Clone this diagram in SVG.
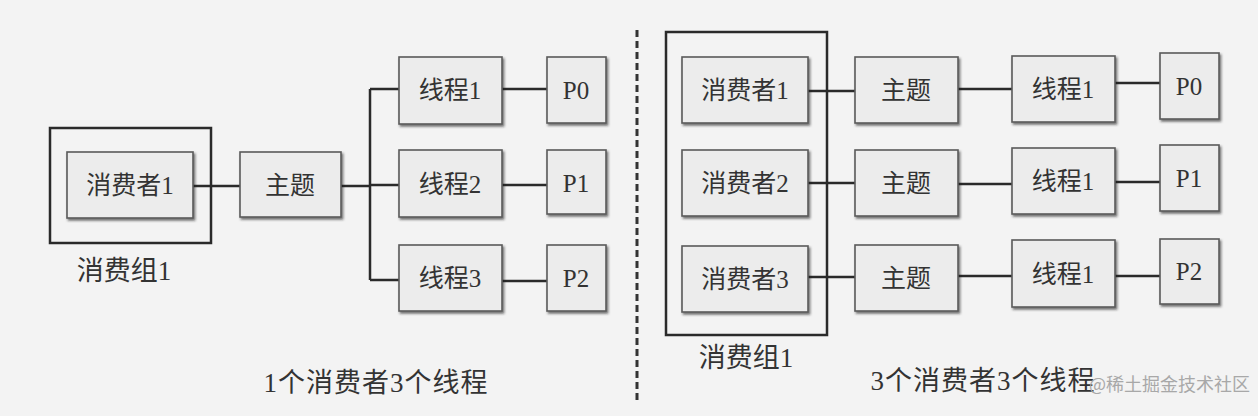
<svg xmlns="http://www.w3.org/2000/svg" width="1258" height="416" viewBox="0 0 1258 416">
<defs>
<filter id="sh" x="-10%" y="-10%" width="125%" height="130%">
<feDropShadow dx="1.5" dy="2" stdDeviation="1.2" flood-color="#222" flood-opacity="0.6"/>
</filter>
<style>
.box{fill:#ececec;stroke:#5a5a5a;stroke-width:1.6;filter:url(#sh)}
.grp{fill:none;stroke:#2a2a2a;stroke-width:2.5}
.t{font-family:"Liberation Serif","Noto Sans CJK SC",serif;font-size:25px;fill:#333;text-anchor:middle;dominant-baseline:central}
.cap{font-family:"Liberation Serif","Noto Sans CJK SC",serif;font-size:27px;fill:#333;text-anchor:middle}
.ln{stroke:#2a2a2a;stroke-width:2.5;fill:none}
.wm{font-family:"Noto Sans CJK SC","Noto Sans",sans-serif;font-size:18px;fill:#a8a8a8}
</style>
</defs>
<rect width="1258" height="416" fill="#f3f3f3"/>
<line x1="637" y1="30" x2="637" y2="402" stroke="#333" stroke-width="3" stroke-dasharray="7,4"/>
<g id="connectors">
<path class="ln" d="M193 186H240M341 186H370M370 89V280M370 89H399M370 185H399M370 280H399M502 89H547M502 185H547M502 281H547"/>
<path class="ln" d="M808 91H855M808 183H855M808 277H855M958 89H1012M958 184H1012M958 276H1012M1115 83H1160M1115 182H1160M1115 276H1160"/>
</g>
<g id="group-left">
<rect class="grp" x="50" y="128" width="161" height="115"/>
<text class="cap" x="124" y="280">消费组1</text>
</g>
<g id="consumer-left"><rect class="box" x="67" y="152" width="126" height="66"/><text class="t" x="130" y="185">消费者1</text></g>
<g id="topic-left"><rect class="box" x="240" y="152" width="101" height="65"/><text class="t" x="290" y="185">主题</text></g>
<g id="thread-l1"><rect class="box" x="399" y="57" width="103" height="67"/><text class="t" x="450" y="90">线程1</text></g>
<g id="thread-l2"><rect class="box" x="399" y="150" width="103" height="67"/><text class="t" x="450" y="184">线程2</text></g>
<g id="thread-l3"><rect class="box" x="399" y="245" width="103" height="66"/><text class="t" x="450" y="278">线程3</text></g>
<g id="p-l0"><rect class="box" x="547" y="57" width="59" height="66"/><text class="t" x="576" y="90">P0</text></g>
<g id="p-l1"><rect class="box" x="547" y="150" width="59" height="64"/><text class="t" x="576" y="183">P1</text></g>
<g id="p-l2"><rect class="box" x="547" y="245" width="59" height="66"/><text class="t" x="576" y="278">P2</text></g>
<text class="cap" x="376" y="392" letter-spacing="1">1个消费者3个线程</text>
<g id="group-right">
<rect class="grp" x="666" y="32" width="161" height="303"/>
<text class="cap" x="746" y="367">消费组1</text>
</g>
<g id="consumer-r1"><rect class="box" x="682" y="57" width="126" height="66"/><text class="t" x="745" y="90">消费者1</text></g>
<g id="consumer-r2"><rect class="box" x="682" y="150" width="126" height="66"/><text class="t" x="745" y="183">消费者2</text></g>
<g id="consumer-r3"><rect class="box" x="682" y="246" width="126" height="66"/><text class="t" x="745" y="279">消费者3</text></g>
<g id="topic-r1"><rect class="box" x="855" y="57" width="103" height="66"/><text class="t" x="906" y="90">主题</text></g>
<g id="topic-r2"><rect class="box" x="855" y="150" width="103" height="66"/><text class="t" x="906" y="183">主题</text></g>
<g id="topic-r3"><rect class="box" x="855" y="245" width="103" height="66"/><text class="t" x="906" y="278">主题</text></g>
<g id="thread-r1"><rect class="box" x="1012" y="56" width="103" height="66"/><text class="t" x="1063" y="89">线程1</text></g>
<g id="thread-r2"><rect class="box" x="1012" y="148" width="103" height="66"/><text class="t" x="1063" y="181">线程1</text></g>
<g id="thread-r3"><rect class="box" x="1012" y="240" width="103" height="67"/><text class="t" x="1063" y="274">线程1</text></g>
<g id="p-r0"><rect class="box" x="1160" y="53" width="59" height="66"/><text class="t" x="1189" y="86">P0</text></g>
<g id="p-r1"><rect class="box" x="1160" y="145" width="59" height="66"/><text class="t" x="1189" y="178">P1</text></g>
<g id="p-r2"><rect class="box" x="1160" y="239" width="59" height="65"/><text class="t" x="1189" y="271">P2</text></g>
<text class="cap" x="983" y="390" letter-spacing="1">3个消费者3个线程</text>
<text class="wm" x="1089" y="391">@稀土掘金技术社区</text>
</svg>
